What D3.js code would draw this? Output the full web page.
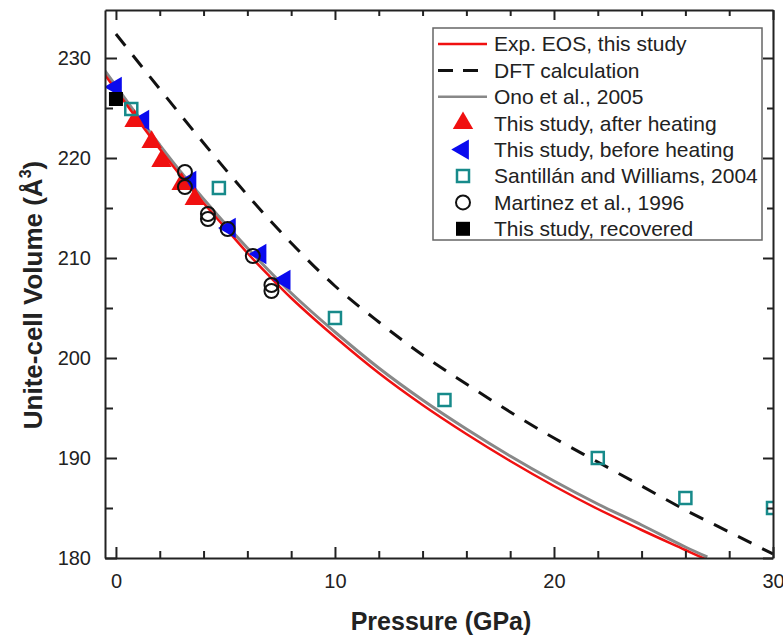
<!DOCTYPE html>
<html>
<head>
<meta charset="utf-8">
<script src="https://cdn.jsdelivr.net/npm/d3@7"></script>
<style>
  body { margin: 0; background: #fff; }
  text { font-family: "Liberation Sans", Arial, sans-serif; fill: #222; }
</style>
</head>
<body>
<svg id="chart" width="783" height="641"></svg>
<script>
// --- values ---
var eosPressure = [-0.5, 0, 1, 2, 3, 4, 5, 6, 7, 8, 9, 10, 12, 14, 16, 18, 20, 22, 24, 26, 27];
var eosVolume   = [228.3, 226.8, 223.8, 220.9, 218.1, 215.5, 213.0, 210.5, 208.2, 206.0, 204.0, 202.1, 198.5, 195.3, 192.4, 189.7, 187.2, 184.9, 182.8, 180.8, 179.8];

var onoPressure = [-0.5, 0, 1, 2, 3, 4, 5, 6, 7, 8, 9, 10, 12, 14, 16, 18, 20, 22, 24, 26, 27];
var onoVolume   = [228.7, 227.2, 224.2, 221.3, 218.5, 215.9, 213.4, 211.0, 208.7, 206.5, 204.5, 202.6, 199.0, 195.8, 192.9, 190.2, 187.7, 185.4, 183.3, 181.1, 180.1];

var dftPressure = [0, 2, 4, 6, 8, 10, 12, 14, 16, 18, 20, 22, 24, 26, 28, 30];
var dftVolume   = [232.4, 226.9, 221.5, 216.3, 211.5, 207.2, 203.6, 200.3, 197.4, 194.6, 192.0, 189.6, 187.2, 184.8, 182.6, 180.4];

var afterPressure = [0.85, 1.63, 2.08, 3.0, 3.6];
var afterVolume   = [223.7, 221.6, 219.7, 217.4, 215.9];

var beforePressure = [0.0, 1.25, 3.4, 5.2, 6.6, 7.7];
var beforeVolume   = [227.1, 223.8, 217.7, 213.0, 210.4, 207.8];

var santillanPressure = [0.7, 4.7, 10, 15, 22, 26, 30];
var santillanVolume   = [224.9, 217.0, 204.0, 195.8, 190.0, 186.0, 185.0];

var martinezPressure = [3.15, 3.15, 4.2, 4.2, 5.1, 6.25, 7.1, 7.1];
var martinezVolume   = [218.6, 217.1, 214.4, 213.9, 212.9, 210.2, 207.3, 206.7];

var recoveredPressure = [0];
var recoveredVolume   = [225.9];

var xTicks = d3.range(0, 31, 2);
var yTicks = d3.range(180, 231, 5);

var legendLabels = ["Exp. EOS, this study", "DFT calculation", "Ono et al., 2005",
  "This study, after heating", "This study, before heating", "Santill\u00e1n and Williams, 2004",
  "Martinez et al., 1996", "This study, recovered"];

// --- layout ---
var mLeft = 105, mRight = 773, mTop = 10, mBottom = 558;
var svg = d3.select("#chart");

var x = d3.scaleLinear().domain([-0.5, 30]).range([mLeft, mRight]);
var y = d3.scaleLinear().domain([180, 234.8]).range([mBottom, mTop]);

function pts(px, py) {
  return px.map(function(p, i) { return [p, py[i]]; });
}

svg.append("clipPath").attr("id", "plotclip")
  .append("rect").attr("x", mLeft).attr("y", mTop)
  .attr("width", mRight - mLeft).attr("height", mBottom - mTop);

var plot = svg.append("g").attr("clip-path", "url(#plotclip)");

var line = d3.line()
  .x(function(d) { return x(d[0]); })
  .y(function(d) { return y(d[1]); })
  .curve(d3.curveMonotoneX);

// curves
plot.append("path").datum(pts(onoPressure, onoVolume))
  .attr("d", line).attr("fill", "none").attr("stroke", "#888").attr("stroke-width", 3);
plot.append("path").datum(pts(eosPressure, eosVolume))
  .attr("d", line).attr("fill", "none").attr("stroke", "#f01010").attr("stroke-width", 2.5);
plot.append("path").datum(pts(dftPressure, dftVolume))
  .attr("d", line).attr("fill", "none").attr("stroke", "#111").attr("stroke-width", 3)
  .attr("stroke-dasharray", "15,12");

// symbols
var triSym = d3.symbol(d3.symbolTriangle, 180);
var blue = "#0a0aee";

plot.append("g").selectAll("path").data(pts(beforePressure, beforeVolume)).join("path")
  .attr("d", triSym)
  .attr("transform", function(d) { return "translate(" + x(d[0]) + "," + y(d[1]) + ") rotate(-90)"; })
  .attr("fill", blue);

plot.append("g").selectAll("path").data(pts(afterPressure, afterVolume)).join("path")
  .attr("d", triSym)
  .attr("transform", function(d) { return "translate(" + x(d[0]) + "," + y(d[1]) + ")"; })
  .attr("fill", "#f01010");

plot.append("g").selectAll("rect").data(pts(santillanPressure, santillanVolume)).join("rect")
  .attr("x", function(d) { return x(d[0]) - 6; })
  .attr("y", function(d) { return y(d[1]) - 6; })
  .attr("width", 12).attr("height", 12)
  .attr("fill", "none").attr("stroke", "#178a8a").attr("stroke-width", 2.5);

plot.append("g").selectAll("circle").data(pts(martinezPressure, martinezVolume)).join("circle")
  .attr("cx", function(d) { return x(d[0]); })
  .attr("cy", function(d) { return y(d[1]); })
  .attr("r", 7).attr("fill", "none").attr("stroke", "#111").attr("stroke-width", 2);

plot.append("g").selectAll("rect").data(pts(recoveredPressure, recoveredVolume)).join("rect")
  .attr("x", function(d) { return x(d[0]) - 7; })
  .attr("y", function(d) { return y(d[1]) - 7; })
  .attr("width", 14).attr("height", 14).attr("fill", "#000");

// axes
function styleAxis(g) {
  g.attr("font-size", 20);
  g.select(".domain").attr("stroke", "#222").attr("stroke-width", 2);
  g.selectAll(".tick line").attr("stroke", "#222").attr("stroke-width", 2);
  g.selectAll(".tick text").attr("font-size", 20).attr("fill", "#222")
    .attr("font-family", "'Liberation Sans', Arial, sans-serif");
}

var gxB = svg.append("g").attr("transform", "translate(0," + mBottom + ")")
  .call(d3.axisBottom(x).tickValues(xTicks).tickSizeInner(-7).tickSizeOuter(0).tickPadding(16)
    .tickFormat(function(d) { return d % 10 === 0 ? d : ""; }));
gxB.selectAll(".tick line").filter(function(d) { return d % 10 === 0; }).attr("y2", -11);
styleAxis(gxB);

var gxT = svg.append("g").attr("transform", "translate(0," + mTop + ")")
  .call(d3.axisTop(x).tickValues(xTicks).tickSizeInner(-6).tickSizeOuter(0).tickFormat(""));
gxT.selectAll(".tick line").filter(function(d) { return d % 10 === 0; }).attr("y2", 10);
styleAxis(gxT);

var gyL = svg.append("g").attr("transform", "translate(" + mLeft + ",0)")
  .call(d3.axisLeft(y).tickValues(yTicks).tickSizeInner(-8).tickSizeOuter(0).tickPadding(14)
    .tickFormat(function(d) { return d % 10 === 0 ? d : ""; }));
gyL.selectAll(".tick line").filter(function(d) { return d % 10 === 0; }).attr("x2", 12);
styleAxis(gyL);

var gyR = svg.append("g").attr("transform", "translate(" + mRight + ",0)")
  .call(d3.axisRight(y).tickValues(yTicks).tickSizeInner(-6).tickSizeOuter(0).tickFormat(""));
gyR.selectAll(".tick line").filter(function(d) { return d % 10 === 0; }).attr("x2", -10);
styleAxis(gyR);

// axis titles
svg.append("text").attr("x", 441).attr("y", 630).attr("text-anchor", "middle")
  .attr("font-size", 25).attr("font-weight", "bold").text("Pressure (GPa)");

var yt = svg.append("text").attr("transform", "translate(42,295) rotate(-90)")
  .attr("text-anchor", "middle").attr("font-size", 26).attr("font-weight", "bold");
yt.append("tspan").text("Unite-cell Volume (\u00c5");
yt.append("tspan").attr("font-size", 16).attr("dy", -11).text("3");
yt.append("tspan").attr("dy", 11).text(")");

// legend
var lg = svg.append("g");
lg.append("rect").attr("x", 433).attr("y", 28).attr("width", 329).attr("height", 212)
  .attr("fill", "#fff").attr("stroke", "#666").attr("stroke-width", 1.5);

var rowY = function(i) { return 44 + i * 26.4; };
legendLabels.forEach(function(t, i) {
  lg.append("text").attr("x", 494).attr("y", rowY(i)).attr("dy", "0.35em")
    .attr("font-size", 21).text(t);
});
lg.append("line").attr("x1", 438).attr("x2", 487).attr("y1", rowY(0)).attr("y2", rowY(0))
  .attr("stroke", "#f01010").attr("stroke-width", 2.5);
lg.append("line").attr("x1", 438).attr("x2", 487).attr("y1", rowY(1)).attr("y2", rowY(1))
  .attr("stroke", "#111").attr("stroke-width", 3).attr("stroke-dasharray", "15,10");
lg.append("line").attr("x1", 438).attr("x2", 487).attr("y1", rowY(2)).attr("y2", rowY(2))
  .attr("stroke", "#888").attr("stroke-width", 2.5);
lg.append("path").attr("d", triSym).attr("transform", "translate(463," + rowY(3) + ")").attr("fill", "#f01010");
lg.append("path").attr("d", triSym).attr("transform", "translate(463," + rowY(4) + ") rotate(-90)").attr("fill", blue);
lg.append("rect").attr("x", 457).attr("y", rowY(5) - 6).attr("width", 12).attr("height", 12)
  .attr("fill", "none").attr("stroke", "#178a8a").attr("stroke-width", 2.5);
lg.append("circle").attr("cx", 463).attr("cy", rowY(6)).attr("r", 7)
  .attr("fill", "none").attr("stroke", "#111").attr("stroke-width", 2);
lg.append("rect").attr("x", 456).attr("y", rowY(7) - 7).attr("width", 14).attr("height", 14).attr("fill", "#000");
</script>
</body>
</html>
